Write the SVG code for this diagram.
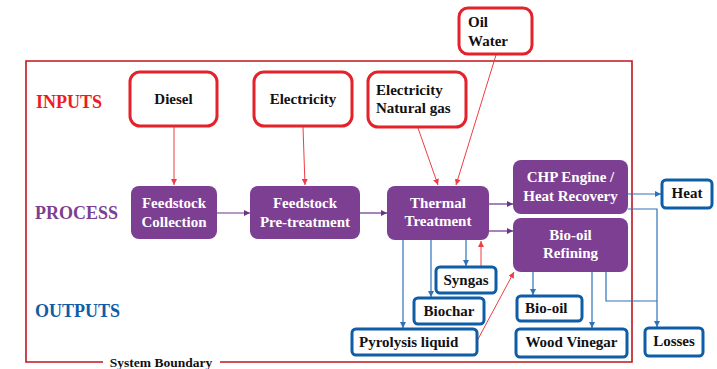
<svg xmlns="http://www.w3.org/2000/svg" width="717" height="369" viewBox="0 0 717 369" font-family="'Liberation Serif', 'DejaVu Serif', serif">
<defs>
<marker id="ar" viewBox="0 0 6 6" refX="6" refY="3" markerWidth="6" markerHeight="6" markerUnits="userSpaceOnUse" orient="auto"><path d="M0,0 L6,3 L0,6 z" fill="#EE3D45"/></marker>
<marker id="ap" viewBox="0 0 6 6" refX="6" refY="3" markerWidth="6" markerHeight="6" markerUnits="userSpaceOnUse" orient="auto"><path d="M0,0 L6,3 L0,6 z" fill="#6A3585"/></marker>
<marker id="ab" viewBox="0 0 6 6" refX="6" refY="3" markerWidth="6" markerHeight="6" markerUnits="userSpaceOnUse" orient="auto"><path d="M0,0 L6,3 L0,6 z" fill="#2E72B8"/></marker>
</defs>
<style>
text{font-family:'Liberation Serif','DejaVu Serif',serif;font-weight:bold}
.in rect{fill:#fff;stroke:#E42229;stroke-width:3}
.pr rect{fill:#7D3F92;stroke:none}
.out rect{fill:#fff;stroke:#0F5DA6;stroke-width:3}
.in text,.out text{font-size:15px;fill:#111}
.pr text{font-size:15px;fill:#fff;text-anchor:middle}
.c{text-anchor:middle}
.lr{stroke:#EE3D45;stroke-width:1;fill:none;marker-end:url(#ar)}
.lp{stroke:#6A3585;stroke-width:1.2;fill:none;marker-end:url(#ap)}
.lb{stroke:#2E72B8;stroke-width:1.2;fill:none}
.lba{marker-end:url(#ab)}
.lab{font-size:18px}
</style>
<rect width="717" height="369" fill="#fff"/>
<g id="boundary">
<path d="M103,362 H26 V61 H632 V362 H220" fill="none" stroke="#C0161E" stroke-width="1.6"/>
<text x="161" y="367" font-size="13.5" fill="#111" text-anchor="middle">System Boundary</text>
</g>
<text class="lab" x="36" y="108" fill="#EE1C24">INPUTS</text>
<text class="lab" x="35" y="219" fill="#7D3F92">PROCESS</text>
<text class="lab" x="35" y="317" fill="#0F5DA6">OUTPUTS</text>
<g id="connectors">
<line class="lr" x1="174" y1="127" x2="174" y2="185"/>
<line class="lr" x1="303" y1="127" x2="305" y2="185"/>
<line class="lr" x1="418" y1="128" x2="438" y2="185"/>
<line class="lr" x1="496" y1="55" x2="456" y2="185"/>
<line class="lp" x1="217" y1="213" x2="250" y2="213"/>
<line class="lp" x1="360" y1="213" x2="387" y2="213"/>
<line class="lp" x1="489" y1="204" x2="513" y2="204"/>
<line class="lp" x1="489" y1="231" x2="513" y2="231"/>
<line class="lb lba" x1="628" y1="194" x2="661" y2="194"/>
<path class="lb lba" d="M628,209 H657 V327"/>
<path class="lb" d="M606,272 V301 H657"/>
<line class="lb lba" x1="533" y1="272" x2="533" y2="295"/>
<line class="lb lba" x1="592" y1="272" x2="592" y2="328"/>
<line class="lb lba" x1="403" y1="240" x2="403" y2="328"/>
<line class="lb lba" x1="431" y1="240" x2="431" y2="297"/>
<line class="lb lba" x1="466" y1="240" x2="466" y2="266"/>
<line class="lr" x1="481" y1="266" x2="481" y2="241"/>
<line class="lr" x1="477" y1="341" x2="514" y2="272"/>
</g>
<g id="diesel" class="in"><rect x="130" y="72" width="87" height="54" rx="10"/><text class="c" x="173.5" y="104">Diesel</text></g>
<g id="electricity" class="in"><rect x="254" y="72" width="98" height="54" rx="10"/><text class="c" x="303" y="104">Electricity</text></g>
<g id="elec-gas" class="in"><rect x="368" y="72" width="98" height="55" rx="10"/><text x="376" y="95">Electricity</text><text x="376" y="113">Natural gas</text></g>
<g id="oil-water" class="in"><rect x="459" y="8" width="73" height="46" rx="9"/><text x="468" y="27">Oil</text><text x="468" y="46">Water</text></g>
<g id="collection" class="pr"><rect x="131" y="186" width="86" height="53" rx="8"/><text x="174" y="208">Feedstock</text><text x="174" y="227">Collection</text></g>
<g id="pretreatment" class="pr"><rect x="250" y="186" width="110" height="53" rx="8"/><text x="305" y="208">Feedstock</text><text x="305" y="227">Pre-treatment</text></g>
<g id="thermal" class="pr"><rect x="387" y="186" width="102" height="54" rx="8"/><text x="438" y="208">Thermal</text><text x="438" y="226">Treatment</text></g>
<g id="chp" class="pr"><rect x="513" y="160" width="115" height="54" rx="8"/><text x="570.5" y="182">CHP Engine /</text><text x="570.5" y="201">Heat Recovery</text></g>
<g id="refining" class="pr"><rect x="513" y="218" width="115" height="54" rx="8"/><text x="570.5" y="240">Bio-oil</text><text x="570.5" y="258">Refining</text></g>
<g id="heat" class="out"><rect x="662" y="180" width="50" height="28" rx="4"/><text class="c" x="687" y="198">Heat</text></g>
<g id="losses" class="out"><rect x="645" y="328" width="58" height="28" rx="4"/><text class="c" x="674" y="346">Losses</text></g>
<g id="syngas" class="out"><rect x="436" y="267" width="60" height="26" rx="4"/><text class="c" x="466" y="285">Syngas</text></g>
<g id="biochar" class="out"><rect x="414" y="298" width="70" height="26" rx="4"/><text class="c" x="449" y="316">Biochar</text></g>
<g id="pyrolysis" class="out"><rect x="352" y="329" width="125" height="26" rx="4"/><text x="359" y="347">Pyrolysis liquid</text></g>
<g id="biooil" class="out"><rect x="517" y="296" width="65" height="25" rx="4"/><text x="525" y="313">Bio-oil</text></g>
<g id="vinegar" class="out"><rect x="516" y="329" width="111" height="28" rx="4"/><text class="c" x="571.5" y="347">Wood Vinegar</text></g>
</svg>
